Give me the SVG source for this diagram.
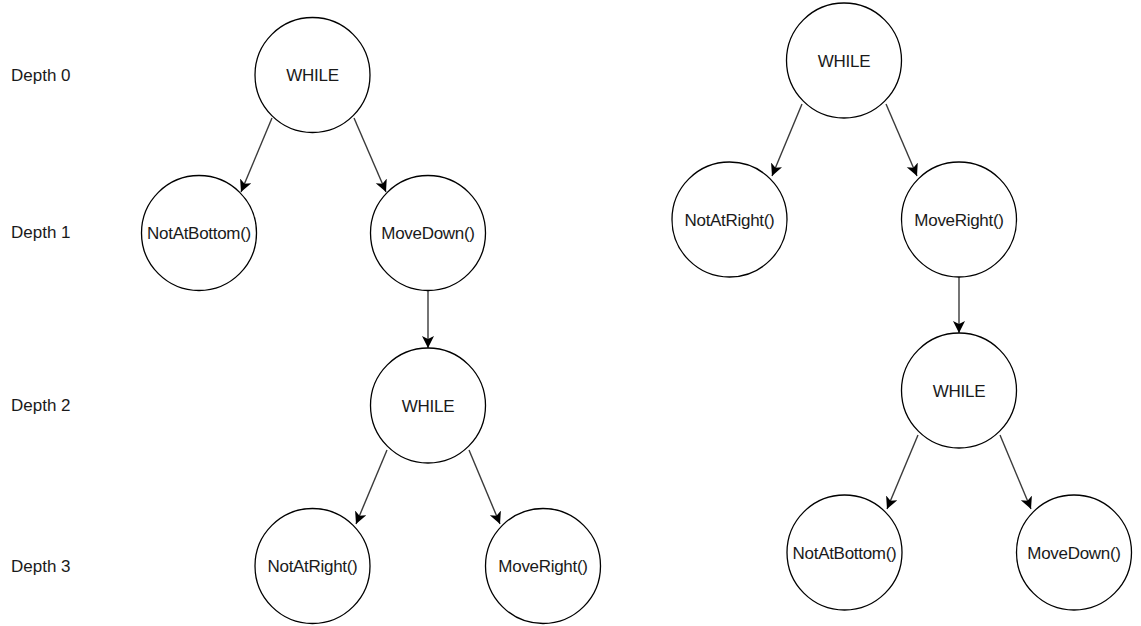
<svg xmlns="http://www.w3.org/2000/svg" width="1141" height="626" viewBox="0 0 1141 626">
  <style>
    .node { fill: #ffffff; stroke: #000000; stroke-width: 1.3; }
    .lbl { font-family: "Liberation Sans", Arial, sans-serif; font-size: 17px; letter-spacing: -0.3px; fill: #1a1a1a; text-anchor: middle; }
    .depth { font-family: "Liberation Sans", Arial, sans-serif; font-size: 17px; fill: #1a1a1a; }
    .edge { stroke: #3a3a3a; stroke-width: 1.4; fill: none; marker-end: url(#arrow); }
  </style>
  <defs>
    <!-- filled arrowhead with a shallow notch -->
    <marker id="arrow" markerUnits="userSpaceOnUse" markerWidth="14" markerHeight="14" refX="12" refY="6" orient="auto">
      <path d="M0,0 L12,6 L0,12 L3,6 Z" fill="#000000"/>
    </marker>
  </defs>
  <rect width="1141" height="626" fill="#ffffff"/>

  <!-- depth labels -->
  <g id="depth-labels">
    <text class="depth" x="11" y="81">Depth 0</text>
    <text class="depth" x="11" y="238">Depth 1</text>
    <text class="depth" x="11" y="411">Depth 2</text>
    <text class="depth" x="11" y="572">Depth 3</text>
  </g>

  <!-- connectors -->
  <g id="connectors">
    <!-- left tree -->
    <line class="edge" x1="272" y1="118" x2="241" y2="192"/>
    <line class="edge" x1="354" y1="118" x2="386" y2="192"/>
    <line class="edge" x1="428" y1="291" x2="428" y2="348"/>
    <line class="edge" x1="387" y1="450" x2="356" y2="524"/>
    <line class="edge" x1="469" y1="450" x2="500" y2="524"/>
    <!-- right tree -->
    <line class="edge" x1="802" y1="104" x2="772" y2="176"/>
    <line class="edge" x1="886" y1="104" x2="917" y2="176"/>
    <line class="edge" x1="959" y1="277" x2="959" y2="333"/>
    <line class="edge" x1="918" y1="435" x2="887" y2="509"/>
    <line class="edge" x1="1000" y1="435" x2="1031" y2="509"/>
  </g>

  <!-- left tree nodes -->
  <g id="L-while0">
    <circle class="node" cx="312.5" cy="75" r="57.5"/>
    <text class="lbl" x="312.5" y="81">WHILE</text>
  </g>
  <g id="L-notatbottom">
    <circle class="node" cx="199" cy="233" r="57.5"/>
    <text class="lbl" x="199" y="239">NotAtBottom()</text>
  </g>
  <g id="L-movedown">
    <circle class="node" cx="428" cy="233" r="57.5"/>
    <text class="lbl" x="428" y="239">MoveDown()</text>
  </g>
  <g id="L-while2">
    <circle class="node" cx="428" cy="405.5" r="57.5"/>
    <text class="lbl" x="428" y="411.5">WHILE</text>
  </g>
  <g id="L-notatright">
    <circle class="node" cx="312.5" cy="566" r="57.5"/>
    <text class="lbl" x="312.5" y="572">NotAtRight()</text>
  </g>
  <g id="L-moveright">
    <circle class="node" cx="543" cy="566" r="57.5"/>
    <text class="lbl" x="543" y="572">MoveRight()</text>
  </g>

  <!-- right tree nodes -->
  <g id="R-while0">
    <circle class="node" cx="844" cy="60.5" r="57.5"/>
    <text class="lbl" x="844" y="66.5">WHILE</text>
  </g>
  <g id="R-notatright">
    <circle class="node" cx="729.5" cy="219.5" r="57.5"/>
    <text class="lbl" x="729.5" y="225.5">NotAtRight()</text>
  </g>
  <g id="R-moveright">
    <circle class="node" cx="959" cy="219.5" r="57.5"/>
    <text class="lbl" x="959" y="225.5">MoveRight()</text>
  </g>
  <g id="R-while2">
    <circle class="node" cx="959" cy="390.5" r="57.5"/>
    <text class="lbl" x="959" y="396.5">WHILE</text>
  </g>
  <g id="R-notatbottom">
    <circle class="node" cx="844.5" cy="552.5" r="57.5"/>
    <text class="lbl" x="844.5" y="558.5">NotAtBottom()</text>
  </g>
  <g id="R-movedown">
    <circle class="node" cx="1074" cy="552.5" r="57.5"/>
    <text class="lbl" x="1074" y="558.5">MoveDown()</text>
  </g>
</svg>
